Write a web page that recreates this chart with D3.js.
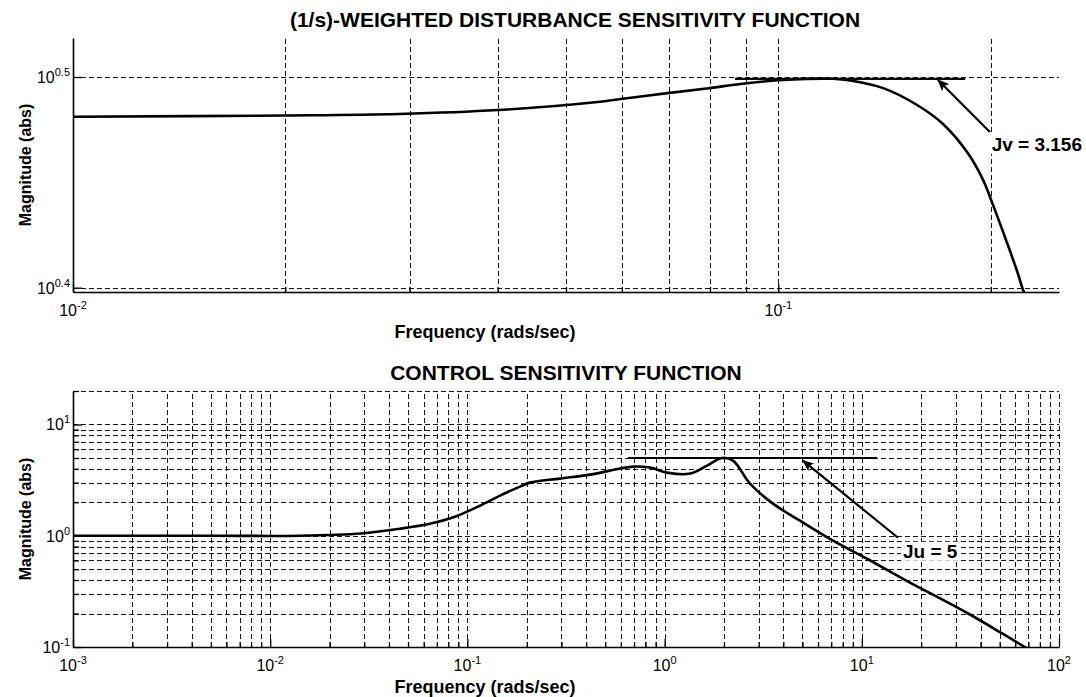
<!DOCTYPE html>
<html>
<head>
<meta charset="utf-8">
<script src="https://cdn.jsdelivr.net/npm/d3@7"></script>
<style>
  html, body { margin: 0; padding: 0; background: #fff; }
  svg { display: block; }
  text { font-family: "Liberation Sans", Arial, Helvetica, sans-serif; fill: #000; }
</style>
</head>
<body>
<svg id="chart" width="1086" height="697"></svg>
<script>
// ---- (1/s)-weighted disturbance sensitivity: frequency (rad/s) and magnitude ----
const topFreq = [0.01, 0.02, 0.029, 0.040, 0.0559, 0.0598, 0.0697, 0.0792, 0.0890, 0.0989,
                 0.1073, 0.1196, 0.1264, 0.1408, 0.1573, 0.1712, 0.1852, 0.1951, 0.2016,
                 0.2110, 0.2180, 0.2223, 0.2235];
const topMag  = [3.028, 3.032, 3.037, 3.050, 3.078, 3.087, 3.107, 3.123, 3.139, 3.150,
                 3.155, 3.156, 3.150, 3.124, 3.067, 3.004, 2.913, 2.826, 2.749,
                 2.638, 2.558, 2.506, 2.495];

// ---- control sensitivity: frequency (rad/s) and magnitude ----
const botFreq = [0.001, 0.005, 0.0142, 0.0289, 0.0455, 0.0646, 0.0865, 0.1159, 0.1463, 0.1848,
                 0.2077, 0.2948, 0.4184, 0.594, 0.6917, 0.8433, 1.028, 1.345, 1.641, 1.955,
                 2.223, 2.711, 3.546, 4.86, 7.145, 10.63, 16.18, 34.96, 52.0, 69.6];
const botMag  = [1.0, 1.0, 1.0, 1.049, 1.157, 1.283, 1.482, 1.862, 2.293, 2.763,
                 3.002, 3.263, 3.544, 4.015, 4.183, 4.099, 3.694, 3.619, 4.271, 5.0,
                 4.74, 2.942, 1.943, 1.365, 0.902, 0.621, 0.410, 0.198, 0.131, 0.096];

// ---- peak markers (value, frequency span of the level line) ----
const jvValue = 3.156;
const jvSpan  = [0.0868, 0.184];
const juValue = 5;
const juSpan  = [0.652, 11.94];

// ---- annotation arrows [freq, mag] and label anchors ----
const jvArrow = [[0.1995, 2.978], [0.1684, 3.152]];
const jvLabelAt = [0.2, 2.917];
const juArrow = [[15.26, 0.959], [5.03, 4.74]];
const juLabelAt = [16.0, 0.634];

// ---- tick values and their exponent labels ----
const topXTicks = [0.01, 0.1];
const topXExp   = ["-2", "-1"];
const topYTicks = [Math.pow(10, 0.4), Math.pow(10, 0.5)];
const topYExp   = ["0.4", "0.5"];
const botXTicks = [1e-3, 1e-2, 1e-1, 1, 10, 100];
const botXExp   = ["-3", "-2", "-1", "0", "1", "2"];
const botYTicks = [0.1, 1, 10];
const botYExp   = ["-1", "0", "1"];

const titles = ["(1/s)-WEIGHTED DISTURBANCE SENSITIVITY FUNCTION", "CONTROL SENSITIVITY FUNCTION"];
const xLabel = "Frequency (rads/sec)";
const yLabel = "Magnitude (abs)";

const svg = d3.select("#chart");

const defs = svg.append("defs");
defs.append("marker")
  .attr("id", "head")
  .attr("viewBox", "0 0 12 10")
  .attr("refX", 11).attr("refY", 5)
  .attr("markerWidth", 12).attr("markerHeight", 10)
  .attr("markerUnits", "userSpaceOnUse")
  .attr("orient", "auto")
  .append("path")
  .attr("d", "M0,0 L12,5 L0,10 L3,5 Z")
  .attr("fill", "#000");

function expLabel(sel, exp) {
  sel.append("tspan").text("10");
  sel.append("tspan").attr("dy", -7).attr("font-size", 11).text(exp);
}

function drawPanel(o) {
  const { x, y, id } = o;
  const [x0, x1] = x.range();
  const [y0, y1] = y.range(); // y0 bottom, y1 top
  const g = svg.append("g");

  defs.append("clipPath").attr("id", id)
    .append("rect").attr("x", x0).attr("y", y1).attr("width", x1 - x0).attr("height", y0 - y1);

  // dashed grid
  const grid = g.append("g").attr("stroke", "#111").attr("stroke-width", 1)
    .attr("stroke-dasharray", "5,3").attr("fill", "none");
  grid.selectAll("line.v").data(o.gridX.filter(v => Math.abs(x(v) - x0) > 1))
    .join("line").attr("class", "v")
    .attr("x1", d => Math.round(x(d)) + 0.5).attr("x2", d => Math.round(x(d)) + 0.5)
    .attr("y1", y0).attr("y2", y1);
  grid.selectAll("line.h").data(o.gridY)
    .join("line").attr("class", "h")
    .attr("y1", d => Math.round(y(d)) + 0.5).attr("y2", d => Math.round(y(d)) + 0.5)
    .attr("x1", x0).attr("x2", x1);

  // axes: left and bottom only, ticks pointing inward
  const minorX = o.gridX.filter(v => !o.xTicks.some(t => Math.abs(t - v) / t < 1e-6));
  const minorY = o.gridY.filter(v => !o.yTicks.some(t => Math.abs(t - v) / t < 1e-6));
  const xa = g.append("g").attr("transform", `translate(0,${y0})`);
  xa.call(d3.axisBottom(x).tickValues(o.xTicks).tickSizeInner(-8).tickSizeOuter(0).tickFormat(""));
  xa.append("g").call(d3.axisBottom(x).tickValues(minorX).tickSizeInner(-5).tickSizeOuter(0).tickFormat(""))
    .select(".domain").remove();
  const ya = g.append("g").attr("transform", `translate(${x0},0)`);
  ya.call(d3.axisLeft(y).tickValues(o.yTicks).tickSizeInner(-9).tickSizeOuter(0).tickFormat(""));
  ya.append("g").call(d3.axisLeft(y).tickValues(minorY).tickSizeInner(-6).tickSizeOuter(0).tickFormat(""))
    .select(".domain").remove();
  g.selectAll(".domain").attr("stroke", "#000").attr("stroke-width", 1.6);
  g.selectAll(".tick line").attr("stroke", "#000").attr("stroke-width", 1.3);

  // tick labels with superscript exponents
  o.xTicks.forEach((t, i) => {
    g.append("text").attr("x", x(t)).attr("y", y0 + 24)
      .attr("text-anchor", "middle").attr("font-size", 16)
      .call(expLabel, o.xExp[i]);
  });
  o.yTicks.forEach((t, i) => {
    g.append("text").attr("x", x0 - 3).attr("y", y(t) + 6)
      .attr("text-anchor", "end").attr("font-size", 16)
      .call(expLabel, o.yExp[i]);
  });

  // titles and axis labels
  g.append("text").attr("x", o.titleX).attr("y", y1 - 11)
    .attr("text-anchor", "middle").attr("font-size", 21).attr("font-weight", "bold")
    .text(o.title);
  g.append("text").attr("x", 485).attr("y", y0 + 46)
    .attr("text-anchor", "middle").attr("font-size", 18).attr("font-weight", "bold")
    .text(xLabel);
  g.append("text")
    .attr("transform", `translate(31,${(y0 + y1) / 2}) rotate(-90)`)
    .attr("text-anchor", "middle").attr("font-size", 16).attr("font-weight", "bold")
    .text(yLabel);

  // response curve
  const pts = o.freq.map((f, i) => [f, o.mag[i]]);
  const line = d3.line().x(d => x(d[0])).y(d => y(d[1])).curve(d3.curveCatmullRom.alpha(0.5));
  g.append("path").datum(pts).attr("clip-path", `url(#${id})`)
    .attr("d", line).attr("fill", "none").attr("stroke", "#000")
    .attr("stroke-width", 2.6).attr("stroke-linejoin", "round");

  // peak level line
  g.append("line")
    .attr("x1", x(o.span[0])).attr("x2", x(o.span[1]))
    .attr("y1", y(o.level)).attr("y2", y(o.level))
    .attr("stroke", "#000").attr("stroke-width", 2.2);

  // annotation arrow and label
  g.append("line")
    .attr("x1", x(o.arrow[0][0])).attr("y1", y(o.arrow[0][1]))
    .attr("x2", x(o.arrow[1][0])).attr("y2", y(o.arrow[1][1]))
    .attr("stroke", "#000").attr("stroke-width", 2.2)
    .attr("marker-end", "url(#head)");
  const lbl = g.append("g");
  const txt = lbl.append("text")
    .attr("x", x(o.labelAt[0]) + 1).attr("y", y(o.labelAt[1]))
    .attr("font-size", 19).attr("font-weight", "bold")
    .text(o.label);
  const bb = txt.node().getBBox();
  lbl.insert("rect", "text")
    .attr("x", bb.x - 2).attr("y", bb.y + 1).attr("width", bb.width + 4).attr("height", bb.height - 2)
    .attr("fill", "#fff");
}

const topX = d3.scaleLog().domain([0.01, 0.25]).range([73, 1059]);
const topY = d3.scaleLog().domain([2.5, 3.3]).range([292, 38]);
drawPanel({
  id: "clipTop", x: topX, y: topY,
  gridX: topX.ticks(), gridY: topYTicks,
  xTicks: topXTicks, xExp: topXExp, yTicks: topYTicks, yExp: topYExp,
  title: titles[0], titleX: 575,
  freq: topFreq, mag: topMag,
  level: jvValue, span: jvSpan,
  arrow: jvArrow, labelAt: jvLabelAt, label: "Jv = " + jvValue
});

const botX = d3.scaleLog().domain([1e-3, 1e2]).range([73, 1059]);
const botY = d3.scaleLog().domain([0.1, 20]).range([647, 391]);
drawPanel({
  id: "clipBot", x: botX, y: botY,
  gridX: botX.ticks(), gridY: botY.ticks(),
  xTicks: botXTicks, xExp: botXExp, yTicks: botYTicks, yExp: botYExp,
  title: titles[1], titleX: 566,
  freq: botFreq, mag: botMag,
  level: juValue, span: juSpan,
  arrow: juArrow, labelAt: juLabelAt, label: "Ju = " + juValue
});
</script>
</body>
</html>
